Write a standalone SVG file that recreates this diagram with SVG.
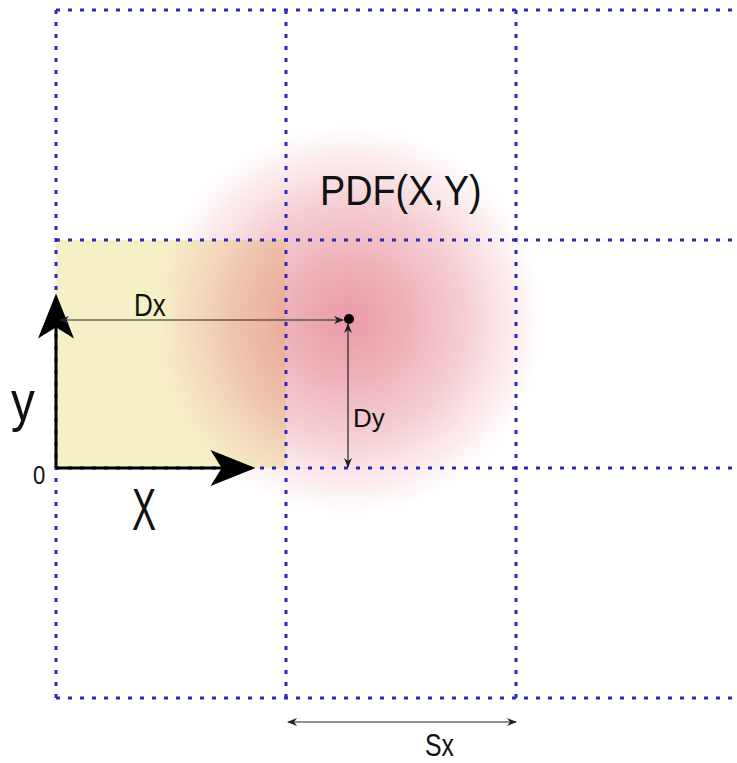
<svg xmlns="http://www.w3.org/2000/svg" width="737" height="763" viewBox="0 0 737 763">
<style>
.grid{stroke:#2a2ab8;stroke-width:3;stroke-dasharray:4 8;fill:none}
.dim{stroke:#222;stroke-width:1.2;fill:none}
.ax{stroke:#000;stroke-width:3;fill:none}
text{font-family:"Liberation Sans",Arial,sans-serif;fill:#111}
</style>
<defs>
<radialGradient id="blob" cx="348" cy="320" r="198" gradientUnits="userSpaceOnUse">
<stop offset="0" stop-color="#d94a60" stop-opacity="0.55"/>
<stop offset="0.3" stop-color="#dd5a6c" stop-opacity="0.47"/>
<stop offset="0.6" stop-color="#e47a88" stop-opacity="0.36"/>
<stop offset="0.82" stop-color="#ee9aa5" stop-opacity="0.2"/>
<stop offset="1" stop-color="#f4b8bf" stop-opacity="0"/>
</radialGradient>
<marker id="sa" viewBox="0 0 10 10" refX="9" refY="5" markerWidth="10" markerHeight="10" markerUnits="userSpaceOnUse" orient="auto-start-reverse">
<path d="M0,1 L10,5 L0,9 L3,5 Z" fill="#222"/>
</marker>
<marker id="big" viewBox="0 0 20 16" refX="18" refY="8" markerWidth="50" markerHeight="36" markerUnits="userSpaceOnUse" orient="auto">
<path d="M0,0 L20,8 L0,16 L5,8 Z" fill="#000"/>
</marker>
</defs>
<rect width="737" height="763" fill="#fff"/>
<rect id="area" x="56" y="240" width="230" height="228" fill="#f6f0c6"/>
<circle id="pdf-blob" cx="348" cy="320" r="198" fill="url(#blob)"/>
<g id="grid">
<path class="grid" d="M56,10 H737 M56,240 H737 M56,468 H737 M56,698 H737"/>
<path class="grid" d="M56,10 V698 M286,10 V698 M516,10 V698"/>
</g>
<g id="axes">
<path class="ax" d="M56,468 V298" marker-end="url(#big)"/>
<path class="ax" d="M56,468 H251" marker-end="url(#big)"/>
<text transform="translate(11,420) scale(0.85,1)" font-size="56">y</text>
<text transform="translate(132,530) scale(0.6,1)" font-size="60">X</text>
<text transform="translate(33,484) scale(0.85,1)" font-size="26">0</text>
</g>
<g id="connectors">
<path class="dim" d="M60,320 H343" marker-start="url(#sa)" marker-end="url(#sa)"/>
<path class="dim" d="M348,324 V467" marker-start="url(#sa)" marker-end="url(#sa)"/>
<path class="dim" d="M288,722 H516" marker-start="url(#sa)" marker-end="url(#sa)"/>
</g>
<g id="center"><circle cx="349" cy="319" r="5" fill="#000"/></g>
<g id="labels">
<text transform="translate(134,316) scale(0.84,1)" font-size="31">Dx</text>
<text x="353" y="427" font-size="26">Dy</text>
<text transform="translate(425,756) scale(0.8,1)" font-size="31">Sx</text>
<text transform="translate(320,205) scale(0.9,1)" font-size="42">PDF(X,Y)</text>
</g>
</svg>
